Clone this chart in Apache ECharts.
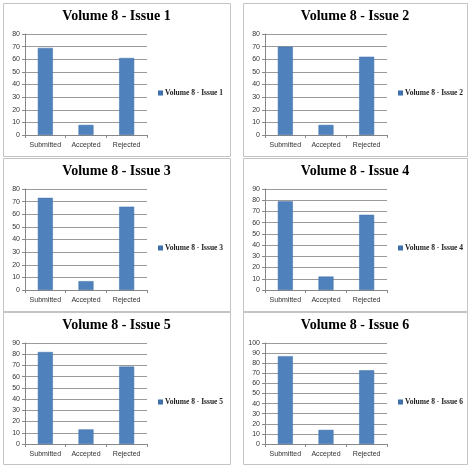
<!DOCTYPE html>
<html>
<head>
<meta charset="utf-8">
<script src="https://cdn.jsdelivr.net/npm/echarts@6/dist/echarts.min.js"></script>
<style>
html,body{margin:0;padding:0;background:#fff;}
#chart{width:474px;height:467px;}
</style>
</head>
<body>
<div id="chart"></div>
<script>
// data
var categories = ['Submitted','Accepted','Rejected'];
var issueNames = ['Volume 8 - Issue 1','Volume 8 - Issue 2','Volume 8 - Issue 3','Volume 8 - Issue 4','Volume 8 - Issue 5','Volume 8 - Issue 6'];
var issue1 = [69, 8, 61];
var issue2 = [70, 8, 62];
var issue3 = [73, 7, 66];
var issue4 = [79, 12, 67];
var issue5 = [82, 13, 69];
var issue6 = [87, 14, 73];
var yMax = [80, 80, 80, 90, 90, 100];
var yStep = 10;

var allValues = [issue1, issue2, issue3, issue4, issue5, issue6];

// panel boxes: x, y, w, h
var panels = [
	[3, 3, 227, 153],
	[243, 3, 224, 153],
	[3, 158, 227, 153],
	[243, 158, 224, 153],
	[3, 312, 227, 152],
	[243, 312, 224, 152]
];

var BAR_COLOR = '#4F81BD';

var titles = [], legends = [], grids = [], xAxes = [], yAxes = [], series = [], boxes = [];

for(var i = 0; i < panels.length; i++){
	var p = panels[i];
	var px = p[0], py = p[1], pw = p[2], ph = p[3];

	boxes.push({
		type:'rect',
		shape:{x:px + 0.5, y:py + 0.5, width:pw, height:ph},
		style:{fill:'#fff', stroke:'#c4c4c4', lineWidth:1},
		z:-10
	});

	titles.push({
		text: issueNames[i],
		left: px + pw/2,
		top: py + 6,
		textAlign:'center',
		padding:0,
		textStyle:{fontFamily:'Liberation Serif', fontWeight:'bold', fontSize:14, color:'#000'}
	});

	legends.push({
		data:[issueNames[i]],
		left: px + 155,
		top: py + 86,
		padding:0,
		icon:'rect',
		itemWidth:3,
		itemHeight:3,
		itemGap:0,
		textStyle:{fontFamily:'Liberation Serif', fontWeight:'bold', fontSize:7.5, color:'#222', padding:[0,0,0,-2]}
	});

	grids.push({
		left: px + 22,
		top: py + 31,
		width: 122,
		height: 101
	});

	xAxes.push({
		type:'category',
		gridIndex:i,
		data:categories,
		axisLine:{lineStyle:{color:'#888', width:1}},
		axisTick:{show:true, length:3, lineStyle:{color:'#888'}},
		axisLabel:{interval:0, hideOverlap:false, fontFamily:'Liberation Sans', fontSize:7, color:'#333', margin:7}
	});

	yAxes.push({
		type:'value',
		gridIndex:i,
		min:0,
		max:yMax[i],
		interval:yStep,
		axisLine:{show:true, lineStyle:{color:'#888', width:1}},
		axisTick:{show:true, length:3, lineStyle:{color:'#888'}},
		axisLabel:{fontFamily:'Liberation Sans', fontSize:7, color:'#333', margin:5},
		splitLine:{show:true, lineStyle:{color:'#9a9a9a', width:1}}
	});

	series.push({
		name: issueNames[i],
		type:'bar',
		xAxisIndex:i,
		yAxisIndex:i,
		data: allValues[i],
		barWidth:15,
		itemStyle:{color:BAR_COLOR, borderColor:'#3f6fa8', borderWidth:0.5}
	});
}

var myChart = echarts.init(document.getElementById('chart'), null, {renderer:'canvas'});
myChart.setOption({
	backgroundColor:'#fff',
	animation:false,
	color:[BAR_COLOR],
	title:titles,
	legend:legends,
	grid:grids,
	xAxis:xAxes,
	yAxis:yAxes,
	series:series,
	graphic:{elements:boxes}
});
</script>
</body>
</html>
